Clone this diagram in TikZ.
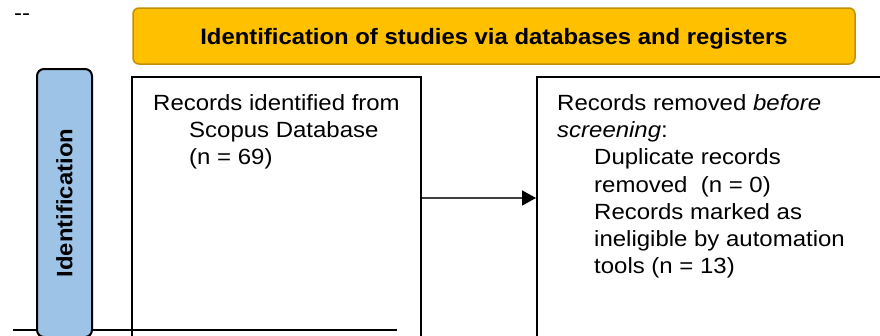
\documentclass[tikz,border=0pt]{standalone}
\usepackage{fontspec}
\setmainfont[FakeStretch=1.09]{Liberation Sans}
\newfontfamily\headfont[FakeStretch=1.07]{Liberation Sans}
\usetikzlibrary{arrows.meta}
\definecolor{gold}{HTML}{FFC000}
\definecolor{goldline}{HTML}{BF9000}
\definecolor{paleblue}{HTML}{9DC3E6}
\definecolor{arrowgray}{HTML}{404040}
\tikzset{
  plainbox/.style={draw=black, line width=2pt, fill=white, anchor=north west},
  boxtext/.style={anchor=north west, align=left, inner sep=0pt,
    font=\fontsize{22}{27.3}\selectfont},
  headtext/.style={font=\headfont\fontsize{22.3}{26}\bfseries\selectfont},
  flowarrow/.style={draw=arrowgray, line width=1.5pt, -{Triangle[length=14pt,width=15pt,color=black]}},
}
\begin{document}
\begin{tikzpicture}[x=1pt,y=-1pt]
\clip (0,0) rectangle (880,335);
\fill[white] (0,0) rectangle (880,335);
% stray dashes
\node[anchor=base west, inner sep=0pt, font=\fontsize{22}{24}\selectfont] (dash) at (14,20) {-{}-};
% title banner
\node[draw=goldline, line width=1.5pt, fill=gold, rounded corners=6pt,
      minimum width=722pt, minimum height=56pt, text height=16pt, text depth=0pt,
      headtext] (title) at (494,36)
      {Identification of studies via databases and registers};
% horizontal line at bottom
\coordinate (h1) at (13,330);
\coordinate (h2) at (397,330);
% left box
\node[plainbox, minimum width=289pt, minimum height=280pt] (left) at (131,76) {};
\draw[black, line width=2pt] (h1) -- (h2);
% right box
\node[plainbox, minimum width=380pt, minimum height=280pt] (right) at (536,76) {};
% side label
\node[draw=black, line width=2pt, fill=paleblue, rounded corners=7pt,
      minimum width=55pt, minimum height=268pt, anchor=north west] (side) at (36,68) {};
\node[rotate=90, headtext] (sidetext) at (side.center |- 0,203) {Identification};
% texts
\node[boxtext] (lefttext) at ([xshift=22pt,yshift=-18pt]left.north west)
  {Records identified from\\
   \hspace*{36pt}Scopus Database\\
   \hspace*{36pt}(n = 69)};
\node[boxtext] (righttext) at ([xshift=21pt,yshift=-18pt]right.north west)
  {Records removed \textit{before}\\
   \textit{screening}:\\
   \hspace*{37pt}Duplicate records\\
   \hspace*{37pt}removed\ \ (n = 0)\\
   \hspace*{37pt}Records marked as\\
   \hspace*{37pt}ineligible by automation\\
   \hspace*{37pt}tools (n = 13)};
% arrow
\draw[flowarrow] ([yshift=-122pt]left.north east) -- ([yshift=-122pt]right.north west);
\end{tikzpicture}
\end{document}
